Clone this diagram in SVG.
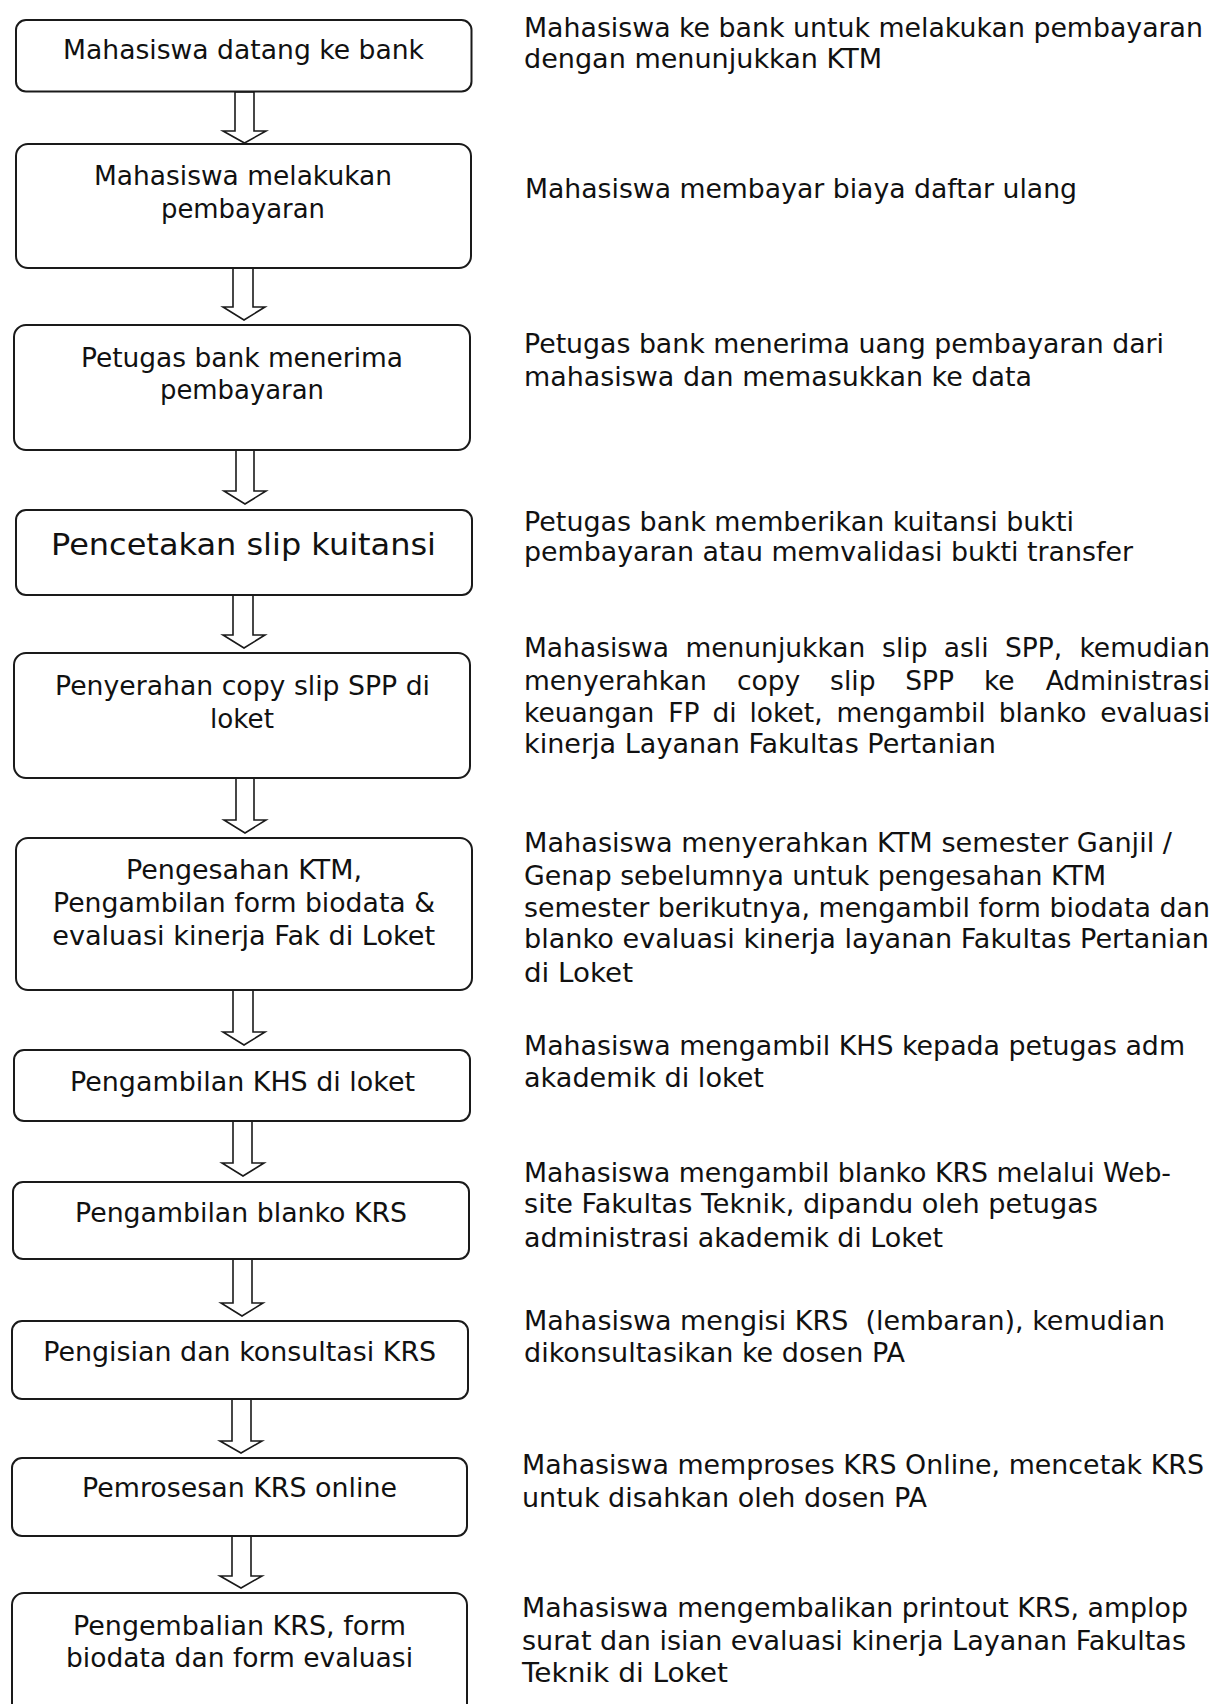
<svg xmlns="http://www.w3.org/2000/svg" width="1216" height="1704" viewBox="0 0 1216 1704">
  <style>
    .box { fill: #ffffff; stroke: #1a1a1a; stroke-width: 2; }
    .arrow { fill: #ffffff; stroke: #1a1a1a; stroke-width: 1.6; stroke-linejoin: miter; }
    .lbl { font-family: "DejaVu Sans", Verdana, sans-serif; font-size: 26px; fill: #111111; text-anchor: middle; }
    .big { font-size: 31px; }
    .note { font-family: "DejaVu Sans", Verdana, sans-serif; font-size: 26.5px; fill: #111111; }
    .end { text-anchor: end; }
  </style>
  <rect width="1216" height="1704" fill="#ffffff"/>

  <!-- block arrows between steps -->
  <g id="connectors">
    <polygon class="arrow" points="235,92 254,92 254,131 266,131 244.5,143 223,131 235,131"/>
    <polygon class="arrow" points="233,268 253,268 253,307 265,307 244,320 223,307 233,307"/>
    <polygon class="arrow" points="236,450 254,450 254,491 266,491 245,504 224,491 236,491"/>
    <polygon class="arrow" points="233,595 253,595 253,635 265,635 244,648 223,635 233,635"/>
    <polygon class="arrow" points="236,778 254,778 254,820 266,820 245,833 224,820 236,820"/>
    <polygon class="arrow" points="233,990 253,990 253,1032 265,1032 244,1045 223,1032 233,1032"/>
    <polygon class="arrow" points="233,1121 252,1121 252,1163 264,1163 243,1176 222,1163 233,1163"/>
    <polygon class="arrow" points="233,1259 252,1259 252,1303 263,1303 242,1316 221,1303 233,1303"/>
    <polygon class="arrow" points="232,1399 251,1399 251,1441 262,1441 241,1453 220,1441 232,1441"/>
    <polygon class="arrow" points="232,1536 251,1536 251,1576 262,1576 241,1588 220,1576 232,1576"/>
  </g>

  <!-- process steps -->
  <g id="step1">
    <rect class="box" x="16" y="20" width="455.5" height="71.5" rx="10"/>
    <text class="lbl" x="243.5" y="59" textLength="361" lengthAdjust="spacingAndGlyphs">Mahasiswa datang ke bank</text>
  </g>
  <g id="step2">
    <rect class="box" x="16" y="144" width="455" height="124" rx="12"/>
    <text class="lbl" x="243" y="185" textLength="298" lengthAdjust="spacingAndGlyphs">Mahasiswa melakukan</text>
    <text class="lbl" x="243" y="218" textLength="164" lengthAdjust="spacingAndGlyphs">pembayaran</text>
  </g>
  <g id="step3">
    <rect class="box" x="14" y="325" width="456" height="125" rx="12"/>
    <text class="lbl" x="242" y="367" textLength="322" lengthAdjust="spacingAndGlyphs">Petugas bank menerima</text>
    <text class="lbl" x="242" y="399" textLength="164" lengthAdjust="spacingAndGlyphs">pembayaran</text>
  </g>
  <g id="step4">
    <rect class="box" x="16" y="510" width="456" height="85" rx="10"/>
    <text class="lbl big" x="243.5" y="555" textLength="385" lengthAdjust="spacingAndGlyphs">Pencetakan slip kuitansi</text>
  </g>
  <g id="step5">
    <rect class="box" x="14" y="653" width="456" height="125" rx="12"/>
    <text class="lbl" x="242.5" y="695" textLength="375" lengthAdjust="spacingAndGlyphs">Penyerahan copy slip SPP di</text>
    <text class="lbl" x="242" y="728" textLength="64" lengthAdjust="spacingAndGlyphs">loket</text>
  </g>
  <g id="step6">
    <rect class="box" x="16" y="838" width="456" height="152" rx="12"/>
    <text class="lbl" x="244" y="879" textLength="236" lengthAdjust="spacingAndGlyphs">Pengesahan KTM,</text>
    <text class="lbl" x="244" y="912" textLength="382" lengthAdjust="spacingAndGlyphs">Pengambilan form biodata &amp;</text>
    <text class="lbl" x="243.7" y="945" textLength="383" lengthAdjust="spacingAndGlyphs">evaluasi kinerja Fak di Loket</text>
  </g>
  <g id="step7">
    <rect class="box" x="14" y="1050" width="456" height="71" rx="10"/>
    <text class="lbl" x="242.5" y="1091" textLength="345" lengthAdjust="spacingAndGlyphs">Pengambilan KHS di loket</text>
  </g>
  <g id="step8">
    <rect class="box" x="13" y="1182" width="456" height="77" rx="10"/>
    <text class="lbl" x="241" y="1222" textLength="332" lengthAdjust="spacingAndGlyphs">Pengambilan blanko KRS</text>
  </g>
  <g id="step9">
    <rect class="box" x="12" y="1321" width="456" height="78" rx="10"/>
    <text class="lbl" x="239.7" y="1361" textLength="393" lengthAdjust="spacingAndGlyphs">Pengisian dan konsultasi KRS</text>
  </g>
  <g id="step10">
    <rect class="box" x="12" y="1458" width="455" height="78" rx="10"/>
    <text class="lbl" x="239.5" y="1497" textLength="315" lengthAdjust="spacingAndGlyphs">Pemrosesan KRS online</text>
  </g>
  <g id="step11">
    <rect class="box" x="12" y="1593" width="455" height="130" rx="12"/>
    <text class="lbl" x="239.5" y="1635" textLength="333" lengthAdjust="spacingAndGlyphs">Pengembalian KRS, form</text>
    <text class="lbl" x="239.5" y="1667" textLength="347" lengthAdjust="spacingAndGlyphs">biodata dan form evaluasi</text>
  </g>

  <!-- descriptions beside each step -->
  <g id="desc1">
    <text class="note" x="524" y="37" textLength="679" lengthAdjust="spacingAndGlyphs">Mahasiswa ke bank untuk melakukan pembayaran</text>
    <text class="note" x="524" y="68" textLength="358" lengthAdjust="spacingAndGlyphs">dengan menunjukkan KTM</text>
  </g>
  <g id="desc2">
    <text class="note" x="525" y="198" textLength="552" lengthAdjust="spacingAndGlyphs">Mahasiswa membayar biaya daftar ulang</text>
  </g>
  <g id="desc3">
    <text class="note" x="524" y="353" textLength="640" lengthAdjust="spacingAndGlyphs">Petugas bank menerima uang pembayaran dari</text>
    <text class="note" x="524" y="386" textLength="508" lengthAdjust="spacingAndGlyphs">mahasiswa dan memasukkan ke data</text>
  </g>
  <g id="desc4">
    <text class="note" x="524" y="531" textLength="550" lengthAdjust="spacingAndGlyphs">Petugas bank memberikan kuitansi bukti</text>
    <text class="note" x="524" y="561" textLength="609" lengthAdjust="spacingAndGlyphs">pembayaran atau memvalidasi bukti transfer</text>
  </g>
  <g id="desc5">
    <!-- justified block: words placed one by one -->
    <text class="note" x="524" y="657">Mahasiswa</text>
    <text class="note" x="685.4" y="657">menunjukkan</text>
    <text class="note" x="882.1" y="657">slip</text>
    <text class="note" x="943.8" y="657">asli</text>
    <text class="note" x="1004.9" y="657">SPP,</text>
    <text class="note end" x="1210" y="657">kemudian</text>

    <text class="note" x="524" y="690">menyerahkan</text>
    <text class="note" x="737" y="690">copy</text>
    <text class="note" x="830.1" y="690">slip</text>
    <text class="note" x="905.3" y="690">SPP</text>
    <text class="note" x="983.9" y="690">ke</text>
    <text class="note end" x="1210" y="690">Administrasi</text>

    <text class="note" x="524" y="722">keuangan</text>
    <text class="note" x="668.3" y="722">FP</text>
    <text class="note" x="712.4" y="722">di</text>
    <text class="note" x="749.5" y="722">loket,</text>
    <text class="note" x="836.4" y="722">mengambil</text>
    <text class="note" x="998.7" y="722">blanko</text>
    <text class="note end" x="1210" y="722">evaluasi</text>

    <text class="note" x="524" y="753" textLength="472" lengthAdjust="spacingAndGlyphs">kinerja Layanan Fakultas Pertanian</text>
  </g>
  <g id="desc6">
    <text class="note" x="524" y="852" textLength="648" lengthAdjust="spacingAndGlyphs">Mahasiswa menyerahkan KTM semester Ganjil /</text>
    <text class="note" x="524" y="885" textLength="582" lengthAdjust="spacingAndGlyphs">Genap sebelumnya untuk pengesahan KTM</text>
    <text class="note" x="524" y="917" textLength="686" lengthAdjust="spacingAndGlyphs">semester berikutnya, mengambil form biodata dan</text>
    <text class="note" x="524" y="948" textLength="685" lengthAdjust="spacingAndGlyphs">blanko evaluasi kinerja layanan Fakultas Pertanian</text>
    <text class="note" x="524" y="982" textLength="109" lengthAdjust="spacingAndGlyphs">di Loket</text>
  </g>
  <g id="desc7">
    <text class="note" x="524" y="1055" textLength="661" lengthAdjust="spacingAndGlyphs">Mahasiswa mengambil KHS kepada petugas adm</text>
    <text class="note" x="524" y="1087" textLength="240" lengthAdjust="spacingAndGlyphs">akademik di loket</text>
  </g>
  <g id="desc8">
    <text class="note" x="524" y="1182" textLength="647" lengthAdjust="spacingAndGlyphs">Mahasiswa mengambil blanko KRS melalui Web-</text>
    <text class="note" x="524" y="1213" textLength="574" lengthAdjust="spacingAndGlyphs">site Fakultas Teknik, dipandu oleh petugas</text>
    <text class="note" x="524" y="1247" textLength="419" lengthAdjust="spacingAndGlyphs">administrasi akademik di Loket</text>
  </g>
  <g id="desc9">
    <text class="note" x="524" y="1330" textLength="641" lengthAdjust="spacingAndGlyphs" style="white-space:pre">Mahasiswa mengisi KRS  (lembaran), kemudian</text>
    <text class="note" x="524" y="1362" textLength="381" lengthAdjust="spacingAndGlyphs">dikonsultasikan ke dosen PA</text>
  </g>
  <g id="desc10">
    <text class="note" x="522" y="1474" textLength="682" lengthAdjust="spacingAndGlyphs">Mahasiswa memproses KRS Online, mencetak KRS</text>
    <text class="note" x="522" y="1507" textLength="405" lengthAdjust="spacingAndGlyphs">untuk disahkan oleh dosen PA</text>
  </g>
  <g id="desc11">
    <text class="note" x="522" y="1617" textLength="666" lengthAdjust="spacingAndGlyphs">Mahasiswa mengembalikan printout KRS, amplop</text>
    <text class="note" x="522" y="1650" textLength="664" lengthAdjust="spacingAndGlyphs">surat dan isian evaluasi kinerja Layanan Fakultas</text>
    <text class="note" x="522" y="1682" textLength="206" lengthAdjust="spacingAndGlyphs">Teknik di Loket</text>
  </g>
</svg>
